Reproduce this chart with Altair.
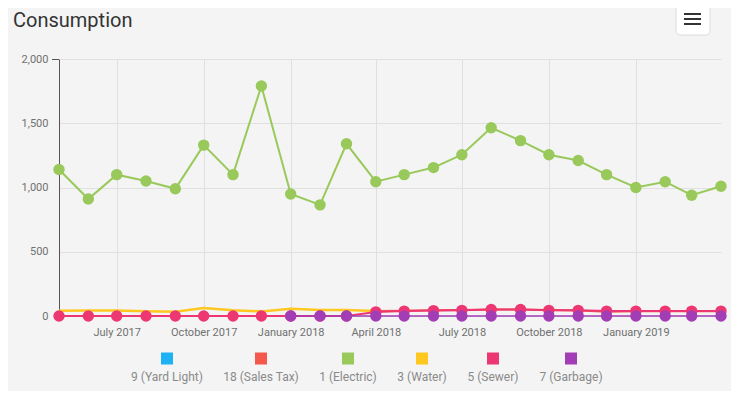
import altair as alt
import pandas as pd

# ---------------- data ----------------
MONTHS = [
    "2017-05-01", "2017-06-01", "2017-07-01", "2017-08-01", "2017-09-01", "2017-10-01",
    "2017-11-01", "2017-12-01", "2018-01-01", "2018-02-01", "2018-03-01", "2018-04-01",
    "2018-05-01", "2018-06-01", "2018-07-01", "2018-08-01", "2018-09-01", "2018-10-01",
    "2018-11-01", "2018-12-01", "2019-01-01", "2019-02-01", "2019-03-01", "2019-04-01",
]
SERIES = ["9 (Yard Light)", "18 (Sales Tax)", "1 (Electric)", "3 (Water)", "5 (Sewer)", "7 (Garbage)"]
COLORS = ["#1EB1F4", "#F4574B", "#98C95A", "#FFC820", "#EC3773", "#A33DB5"]

YARD_LIGHT = [None] * 24
SALES_TAX = [None, None, None, None, None, None, None, None, None, None, None, 38,
             40, 45, 46, 50, 50, 46, 42, 34, 36, 36, 36, 36]
ELECTRIC = [1140, 910, 1100, 1050, 990, 1330, 1100, 1790, 950, 865, 1340, 1045,
            1100, 1155, 1255, 1465, 1365, 1255, 1210, 1100, 1000, 1045, 940, 1010]
WATER = [40, 43, 43, 36, 34, 62, 44, 36, 57, 47, 47, 39,
         None, None, None, None, None, None, None, None, None, None, None, None]
SEWER = [0, 0, 0, 0, 0, 0, 0, 0, 0, 0, 0, 32,
         38, 42, 44, 50, 50, 44, 44, 38, 38, 38, 38, 38]
GARBAGE = [None, None, None, None, None, None, None, None, 0, 0, 0, 0,
           0, 0, 0, 0, 0, 0, 0, 0, 0, 0, 0, 0]

Y_TICKS = [0, 500, 1000, 1500, 2000]

VALUES = [YARD_LIGHT, SALES_TAX, ELECTRIC, WATER, SEWER, GARBAGE]
rows = []
for name, vals in zip(SERIES, VALUES):
    for m, v in zip(MONTHS, vals):
        if v is not None:
            rows.append({"month": m + "T00:00:00", "series": name, "value": v})
df = pd.DataFrame(rows)

# ---------------- layout constants ----------------
W, H = 662, 257
FONT = "Roboto"
LINE_W = {"18 (Sales Tax)": 2, "1 (Electric)": 2, "3 (Water)": 2.5, "5 (Sewer)": 2, "7 (Garbage)": 1.5}
WITH_MARKERS = {"1 (Electric)", "5 (Sewer)", "7 (Garbage)"}

x_scale = alt.Scale(domain=[alt.DateTime(year=2017, month=5, date=1),
                            alt.DateTime(year=2019, month=4, date=1)], nice=False)
y_scale = alt.Scale(domain=[0, 2000], nice=False)

x_axis = alt.Axis(
    values=[alt.DateTime(year=2017, month=7, date=1), alt.DateTime(year=2017, month=10, date=1),
            alt.DateTime(year=2018, month=1, date=1), alt.DateTime(year=2018, month=4, date=1),
            alt.DateTime(year=2018, month=7, date=1), alt.DateTime(year=2018, month=10, date=1),
            alt.DateTime(year=2019, month=1, date=1)],
    format="%B %Y", title=None, grid=True, gridColor="#e0e0e0", domain=False,
    ticks=False, tickSize=0, labelPadding=10, labelFontSize=11, labelColor="#707070",
    labelFont=FONT, labelOverlap=False, labelFlush=False,
)
y_axis = alt.Axis(
    values=Y_TICKS, format=",.0f", title=None, grid=True, gridColor="#e0e0e0",
    domain=True, domainColor="#555555", domainWidth=1, ticks=False, tickSize=0,
    labelPadding=11, labelFontSize=11, labelColor="#707070", labelFont=FONT,
)

layers = []
for name, color in zip(SERIES, COLORS):
    if name not in LINE_W:
        continue
    base = alt.Chart(df).transform_filter(alt.datum.series == name)
    enc = dict(x=alt.X("month:T", scale=x_scale, axis=x_axis),
               y=alt.Y("value:Q", scale=y_scale, axis=y_axis))
    layers.append(base.mark_line(color=color, strokeWidth=LINE_W[name]).encode(**enc))
    if name in WITH_MARKERS:
        layers.append(base.mark_circle(color=color, size=130, opacity=1).encode(**enc))

# ---------------- legend (symbols above labels) ----------------
LEGEND_X = [108, 202, 289, 363, 434, 512]
legend_layers = []
for name, color, lx in zip(SERIES, COLORS, LEGEND_X):
    item = alt.Chart(pd.DataFrame({"series": [name]}))
    legend_layers.append(item.mark_square(size=144, opacity=1, color=color).encode(
        x=alt.value(lx), y=alt.value(299.5)))
    legend_layers.append(item.mark_text(fontSize=12, font=FONT, color="#8a8a8a",
                                        baseline="middle", align="center").encode(
        x=alt.value(lx), y=alt.value(317.5), text="series:N"))

# ---------------- title, axis end tick & menu button ----------------
one = pd.DataFrame({"t": ["Consumption"]})
title = alt.Chart(one).mark_text(fontSize=20, font=FONT, color="#333333", align="left",
                                 baseline="alphabetic").encode(
    x=alt.value(-46), y=alt.value(-31.7), text="t:N")
top_tick = alt.Chart(one).mark_rule(color="#555555", strokeWidth=1).encode(
    x=alt.value(-7), x2=alt.value(0), y=alt.value(0.5))
button = alt.Chart(one).mark_rect(fill="white", stroke="#dcdcdc", strokeWidth=1,
                                  cornerRadius=4).encode(
    x=alt.value(617), x2=alt.value(651), y=alt.value(-57), y2=alt.value(-24))
bars = [
    alt.Chart(one).mark_rule(color="#333333", strokeWidth=2).encode(
        x=alt.value(625), x2=alt.value(642), y=alt.value(yy))
    for yy in (-45, -40, -35)
]

chart = alt.layer(*layers, *legend_layers, title, top_tick, button, *bars).properties(
    width=W, height=H,
    autosize=alt.AutoSizeParams(type="none"),
    padding={"left": 51, "top": 51, "right": 10, "bottom": 75},
    background="#f4f4f4",
).configure_view(stroke=None)

chart.save("out.html", embed_options={"renderer": "svg", "actions": False})
